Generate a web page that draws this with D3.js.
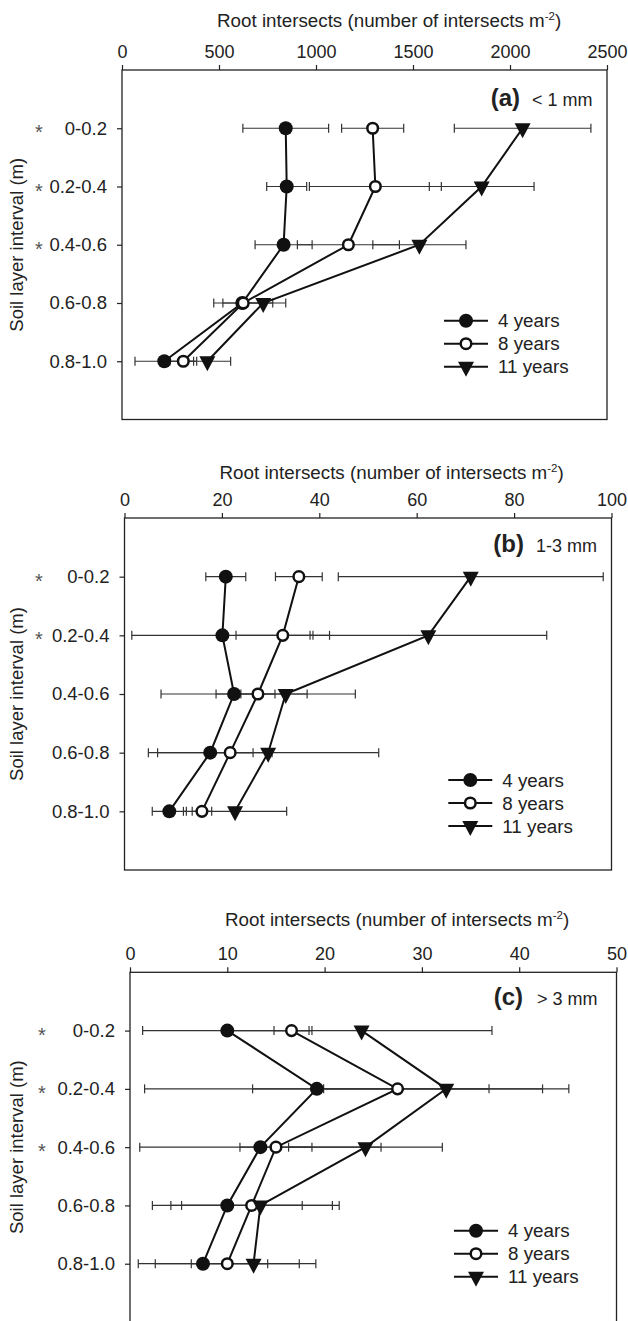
<!DOCTYPE html>
<html><head><meta charset="utf-8">
<script src="https://cdn.jsdelivr.net/npm/d3@7"></script>
<style>
body{margin:0;background:#fff}
svg{display:block}
text{font-family:"Liberation Sans",Arial,Helvetica,sans-serif;fill:#222}
</style>
</head><body><svg id="chart" width="628" height="1321"></svg>
<script>
// ---------- data ----------
const layers = ["0-0.2","0.2-0.4","0.4-0.6","0.6-0.8","0.8-1.0"];
const seriesNames = ["4 years","8 years","11 years"];
const xTitle = "Root intersects (number of intersects m";
const xTitleSup = "-2";
const yTitle = "Soil layer interval (m)";

// panel (a) < 1 mm
const aTicks = [0,500,1000,1500,2000,2500];
const a4   = [844, 849, 833, 620, 218];
const a4se = [221, 103, 147, 100, 151];
const a8   = [1292, 1306, 1167, 625, 316];
const a8se = [160, 340, 263, 152, 69];
const a11  = [2065, 1854, 1533, 728, 440];
const a11se= [352, 270, 240, 116, 120];
const aStars = ["0-0.2","0.2-0.4","0.4-0.6"];

// panel (b) 1-3 mm
const bTicks = [0,20,40,60,80,100];
const b4   = [20.8, 20.1, 22.5, 17.6, 9.2];
const b4se = [4.1, 18.6, 15.0, 12.7, 3.5];
const b8   = [35.8, 32.5, 27.4, 21.7, 15.9];
const b8se = [4.8, 9.6, 3.5, 4.7, 2.0];
const b11  = [71.1, 62.4, 33.1, 29.5, 22.7];
const b11se= [27.2, 24.3, 14.3, 22.7, 10.6];
const bStars = ["0-0.2","0.2-0.4"];

// panel (c) > 3 mm
const cTicks = [0,10,20,30,40,50];
const c4   = [10.0, 19.2, 13.4, 10.0, 7.5];
const c4se = [8.7, 17.7, 12.4, 7.7, 6.65];
const c8   = [16.6, 27.5, 15.0, 12.5, 10.0];
const c8se = [1.8, 14.9, 3.7, 8.3, 7.4];
const c11  = [23.8, 32.5, 24.2, 13.4, 12.7];
const c11se= [13.4, 12.6, 7.9, 8.1, 6.4];
const cStars = ["0-0.2","0.2-0.4","0.4-0.6"];

const panelLetters = ["(a)","(b)","(c)"];
const panelSizes = ["< 1 mm","1-3 mm","> 3 mm"];

// ---------- layout ----------
const panels = [
  {letter:panelLetters[0], size:panelSizes[0], ticks:aTicks, vals:[a4,a8,a11], ses:[a4se,a8se,a11se], stars:aStars,
   box:{l:122,r:607,t:70,b:419.5}, titleY:27.3, letterEnd:520, sizeX:532, labelY:106.4, legX:444, legY:320.7, starX:39},
  {letter:panelLetters[1], size:panelSizes[1], ticks:bTicks, vals:[b4,b8,b11], ses:[b4se,b8se,b11se], stars:bStars,
   box:{l:124.5,r:611.5,t:518,b:870}, titleY:479.3, letterEnd:524, sizeX:536, labelY:551.5, legX:448.3, legY:780, starX:39},
  {letter:panelLetters[2], size:panelSizes[2], ticks:cTicks, vals:[c4,c8,c11], ses:[c4se,c8se,c11se], stars:cStars,
   box:{l:130,r:616.5,t:972.3,b:1322}, titleY:926, letterEnd:523, sizeX:537, labelY:1005, legX:454, legY:1230.7, starX:42}
];

const svg = d3.select("#chart");

function drawMarker(g, kind, x, y) {
  if (kind === 0) {
    g.append("circle").attr("cx", x).attr("cy", y).attr("r", 7).attr("fill", "#111");
  } else if (kind === 1) {
    g.append("circle").attr("cx", x).attr("cy", y).attr("r", 5.3)
      .attr("fill", "#fff").attr("stroke", "#111").attr("stroke-width", 2.5);
  } else {
    g.append("path").attr("transform", `translate(${x},${y})`)
      .attr("d", "M-8,-5L8,-5L0,10Z").attr("fill", "#111");
  }
}

panels.forEach(p => {
  const B = p.box;
  const x = d3.scaleLinear().domain([p.ticks[0], p.ticks[p.ticks.length-1]]).range([B.l, B.r]);
  const y = d3.scalePoint().domain(layers).range([B.t, B.b]).padding(1);
  const g = svg.append("g");

  // frame
  g.append("rect").attr("x", B.l).attr("y", B.t).attr("width", B.r - B.l).attr("height", B.b - B.t)
    .attr("fill", "none").attr("stroke", "#222").attr("stroke-width", 1.3);

  // top axis
  const ax = g.append("g").attr("transform", `translate(0,${B.t})`)
    .call(d3.axisTop(x).tickValues(p.ticks).tickSize(5).tickPadding(7.5).tickFormat(d3.format("d")));
  ax.attr("font-family", null);
  ax.select(".domain").remove();
  ax.selectAll("line").attr("stroke", "#222").attr("stroke-width", 1.2);
  ax.selectAll("text").attr("font-size", 18).attr("fill", "#222");

  // left axis
  const ay = g.append("g").attr("transform", `translate(${B.l},0)`)
    .call(d3.axisLeft(y).tickSize(5).tickPadding(10));
  ay.attr("font-family", null);
  ay.select(".domain").remove();
  ay.selectAll("line").attr("stroke", "#222").attr("stroke-width", 1.2);
  ay.selectAll("text").attr("font-size", 18.5).attr("fill", "#222");

  // significance asterisks
  g.selectAll(".star").data(p.stars).enter().append("text")
    .attr("x", p.starX).attr("y", d => y(d) + 11)
    .attr("text-anchor", "middle").attr("font-size", 20).style("fill", "#555")
    .text("*");

  // axis titles
  const t = g.append("text").attr("x", B.l + 95).attr("y", p.titleY).attr("font-size", 18.8);
  t.append("tspan").text(xTitle);
  t.append("tspan").attr("dy", -7.5).attr("font-size", 11.5).text(xTitleSup);
  t.append("tspan").attr("dy", 7.5).text(")");

  g.append("text").attr("transform", `translate(23,${(B.t + B.b) / 2}) rotate(-90)`)
    .attr("text-anchor", "middle").attr("font-size", 18.5).text(yTitle);

  // panel label
  g.append("text").attr("x", p.letterEnd).attr("y", p.labelY).attr("text-anchor", "end")
    .attr("font-size", 24).attr("font-weight", "bold").text(p.letter);
  g.append("text").attr("x", p.sizeX).attr("y", p.labelY).attr("font-size", 18).text(p.size);

  // error bars
  p.vals.forEach((vals, si) => {
    const se = p.ses[si];
    layers.forEach((L, i) => {
      const yy = y(L), x1 = x(vals[i] - se[i]), x2 = x(vals[i] + se[i]);
      g.append("line").attr("x1", x1).attr("x2", x2).attr("y1", yy).attr("y2", yy)
        .attr("stroke", "#333").attr("stroke-width", 1.2);
      [x1, x2].forEach(xx => g.append("line").attr("x1", xx).attr("x2", xx)
        .attr("y1", yy - 4.5).attr("y2", yy + 4.5).attr("stroke", "#333").attr("stroke-width", 1.2));
    });
  });

  // connecting lines
  const line = d3.line().x(d => x(d[0])).y(d => y(d[1]));
  p.vals.forEach(vals => {
    g.append("path").datum(vals.map((v, i) => [v, layers[i]]))
      .attr("d", line).attr("fill", "none").attr("stroke", "#111").attr("stroke-width", 2);
  });

  // markers
  p.vals.forEach((vals, si) => {
    layers.forEach((L, i) => drawMarker(g, si, x(vals[i]), y(L)));
  });

  // legend
  seriesNames.forEach((name, si) => {
    const ly = p.legY + si * 23;
    g.append("line").attr("x1", p.legX).attr("x2", p.legX + 44).attr("y1", ly).attr("y2", ly)
      .attr("stroke", "#111").attr("stroke-width", 2);
    drawMarker(g, si, p.legX + 22, ly);
    g.append("text").attr("x", p.legX + 54).attr("y", ly + 6.5).attr("font-size", 18.8).text(name);
  });
});
</script>
</body></html>
